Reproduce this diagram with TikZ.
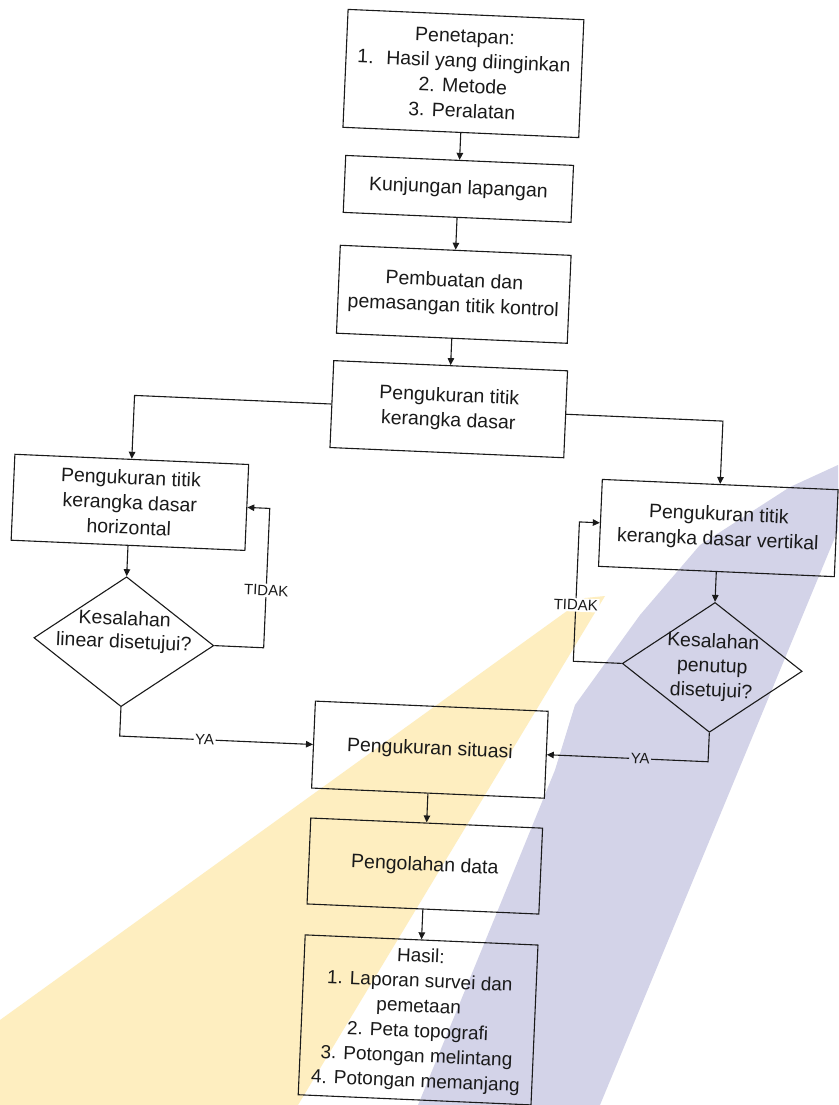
\documentclass[tikz,border=0pt]{standalone}
\usepackage{fontspec}
\setmainfont{Liberation Sans}
\usetikzlibrary{shapes.geometric,arrows.meta}
\definecolor{ink}{HTML}{1A1A1A}
\definecolor{wmyellow}{RGB}{254,238,192}
\definecolor{wmblue}{RGB}{211,211,232}

\begin{document}
\begin{tikzpicture}[x=1pt,y=-1pt,
  proc/.style={draw=ink, line width=1.1pt, rectangle, align=center, inner sep=2pt,
    font=\fontsize{19.5}{25}\selectfont, text=ink},
  dec/.style={draw=ink, line width=1.1pt, diamond, minimum width=180pt,
    minimum height=130pt, inner sep=0pt},
  dectext/.style={align=center, text=ink},
  flow/.style={draw=ink, line width=1.1pt, -{Triangle[length=7pt,width=6.5pt]}},
  tag/.style={font=\fontsize{15}{15}\selectfont, text=ink, fill=white, inner sep=1.5pt},
]
\useasboundingbox (0,0) rectangle (838,1105);
\fill[white] (0,0) rectangle (838,1105);

% background bands
\fill[wmyellow] (0,1020) -- (585,598) -- (605,596) -- (298,1105) -- (0,1105) -- cycle;
\fill[wmblue] (418,1105) -- (500,905) -- (555,770) -- (575,705) -- (640,615)
  -- (700,545) -- (790,487) -- (838,465) -- (838,530) -- (600,1105) -- cycle;

\begin{scope}[rotate around={-2.5:(419,552)}, transform shape]
  % main column
  \node[proc, minimum width=236pt, minimum height=118pt] (tetap) at (442.5,72)
    {Penetapan:\\1.~ Hasil yang diinginkan\\2. Metode\\3. Peralatan};
  \node[proc, minimum width=228pt, minimum height=57pt] (kunj) at (442.5,187.5)
    {Kunjungan lapangan};
  \node[proc, minimum width=231pt, minimum height=88pt] (buat) at (442.5,293)
    {Pembuatan dan\\pemasangan titik kontrol};
  \node[proc, minimum width=234pt, minimum height=87pt] (ukur) at (442.5,408)
    {Pengukuran titik\\kerangka dasar};

  % two branches
  \node[proc, minimum width=234pt, minimum height=86pt] (horiz) at (128,515)
    {Pengukuran titik\\kerangka dasar\\horizontal};
  \node[proc, minimum width=236pt, minimum height=87pt] (vert) at (717,515)
    {Pengukuran titik\\kerangka dasar vertikal};

  \node[dec, label={[dectext, font=\fontsize{19.5}{23}\selectfont, yshift=10pt]center:Kesalahan\\linear disetujui?}]
    (ldia) at (128,654.5) {};
  \node[dec, label={[dectext, font=\fontsize{19.5}{24.5}\selectfont]center:Kesalahan\\penutup\\disetujui?}]
    (rdia) at (717,654.5) {};

  % lower column
  \node[proc, minimum width=233pt, minimum height=87pt] (sit) at (438.5,749)
    {Pengukuran situasi};
  \node[proc, minimum width=232pt, minimum height=86pt] (olah) at (438.5,865.5)
    {Pengolahan data};
  \node[proc, minimum width=233pt, minimum height=160pt,
    font=\fontsize{19}{25}\selectfont] (hasil) at (438.5,1019.5)
    {Hasil:\\1. Laporan survei dan\\pemetaan\\2. Peta topografi\\3. Potongan melintang\\4. Potongan memanjang};

  % corner points of the connectors
  \coordinate (lk) at (128,408);
  \coordinate (rk) at (717,408);
  \coordinate (lfa) at (268,654.5);
  \coordinate (lfb) at (268,515);
  \coordinate (rfa) at (578,654.5);
  \coordinate (rfb) at (578,515);
  \coordinate (ly) at (128,749);
  \coordinate (ry) at (717,749);

  % connectors
  \draw[flow] (tetap) -- (kunj);
  \draw[flow] (kunj) -- (buat);
  \draw[flow] (buat) -- (ukur);
  \draw[flow] (ukur.west) -- (lk) -- (horiz.north);
  \draw[flow] (ukur.east) -- (rk) -- (vert.north);
  \draw[flow] (horiz) -- (ldia);
  \draw[flow] (vert) -- (rdia);
  \draw[flow] (ldia.east) -- (lfa) -- (lfb) -- (horiz.east);
  \draw[flow] (rdia.west) -- (rfa) -- (rfb) -- (vert.west);
  \draw[flow] (ldia.south) -- (ly) -- (sit.west);
  \draw[flow] (rdia.south) -- (ry) -- (sit.east);
  \draw[flow] (sit) -- (olah);
  \draw[flow] (olah) -- (hasil);

  % branch labels
  \node[tag] (ltidak) at (268,597) {TIDAK};
  \node[tag] (rtidak) at (578,598) {TIDAK};
  \node[tag] (lya) at (213,749) {YA};
  \node[tag, fill=wmblue] (rya) at (649,749) {YA};
\end{scope}
\end{tikzpicture}
\end{document}
